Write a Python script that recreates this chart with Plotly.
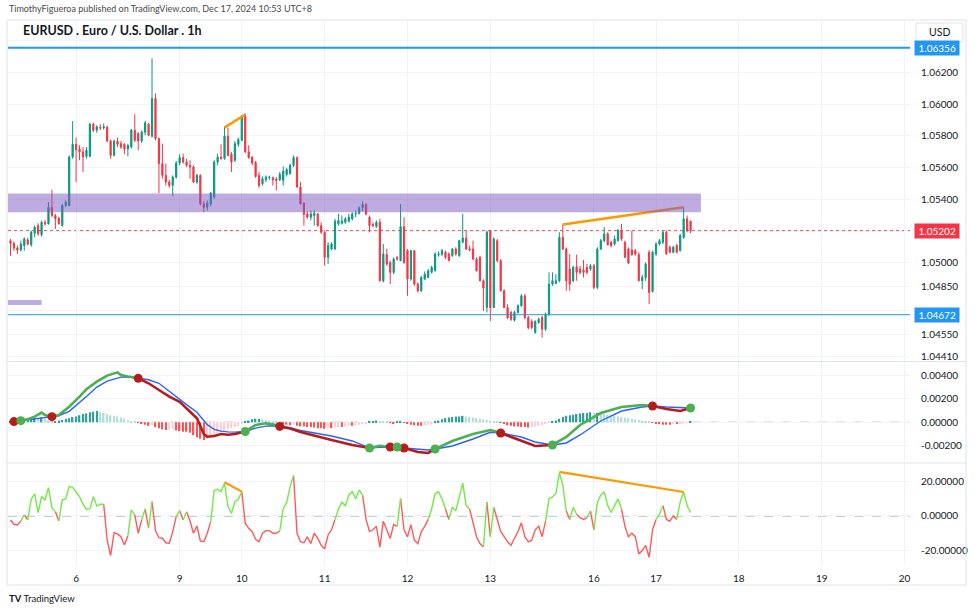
import plotly.graph_objects as go
import pandas as pd

# ---------------- data ----------------
PUBLISHED = "TimothyFigueroa published on TradingView.com, Dec 17, 2024 10:53 UTC+8"
SYMBOL_TITLE = "EURUSD . Euro / U.S. Dollar . 1h"
CURRENCY = "USD"
FIRST_BAR = "2024-12-05 05:00"   # UTC+8, hourly bars

opens = [
    1.05139, 1.05122, 1.05093, 1.05080, 1.05108, 1.05144, 1.05114, 1.05186, 1.05234, 1.05177,
    1.05255, 1.05245, 1.05350, 1.05298, 1.05281, 1.05234, 1.05361, 1.05361, 1.05667, 1.05747,
    1.05717, 1.05699, 1.05671, 1.05671, 1.05874, 1.05836, 1.05852, 1.05850, 1.05857, 1.05768,
    1.05677, 1.05768, 1.05751, 1.05747, 1.05717, 1.05730, 1.05836, 1.05815, 1.05768, 1.05823,
    1.05874, 1.05798, 1.06036, 1.05783, 1.05625, 1.05551, 1.05509, 1.05487, 1.05540, 1.05629,
    1.05663, 1.05635, 1.05614, 1.05604, 1.05509, 1.05551, 1.05371, 1.05350, 1.05371, 1.05414,
    1.05635, 1.05667, 1.05656, 1.05798, 1.05684, 1.05646, 1.05747, 1.05772, 1.05924, 1.05699,
    1.05667, 1.05633, 1.05551, 1.05498, 1.05523, 1.05536, 1.05536, 1.05528, 1.05523, 1.05519,
    1.05557, 1.05561, 1.05614, 1.05663, 1.05477, 1.05376, 1.05308, 1.05287, 1.05298, 1.05308,
    1.05234, 1.05192, 1.05034, 1.05087, 1.05087, 1.05245, 1.05249, 1.05255, 1.05262, 1.05277,
    1.05308, 1.05312, 1.05346, 1.05367, 1.05287, 1.05241, 1.05228, 1.05255, 1.04886, 1.05051,
    1.05002, 1.04939, 1.05034, 1.05013, 1.05228, 1.05076, 1.04897, 1.05076, 1.04865, 1.04823,
    1.04897, 1.04907, 1.04939, 1.04949, 1.05051, 1.05051, 1.05066, 1.05055, 1.05044, 1.05087,
    1.05044, 1.05129, 1.05156, 1.05087, 1.05087, 1.05023, 1.05034, 1.04886, 1.04717, 1.05203,
    1.04717, 1.05139, 1.05013, 1.04823, 1.04717, 1.04686, 1.04637, 1.04686, 1.04728, 1.04791,
    1.04654, 1.04629, 1.04559, 1.04622, 1.04654, 1.04580, 1.04675, 1.04865, 1.04869, 1.04886,
    1.05160, 1.05087, 1.04960, 1.04886, 1.04975, 1.04960, 1.04954, 1.04971, 1.04960, 1.04981,
    1.04844, 1.05087, 1.05139, 1.05182, 1.05129, 1.05118, 1.05139, 1.05203, 1.05129, 1.05087,
    1.05080, 1.05076, 1.05051, 1.04886, 1.04907, 1.05066, 1.04819, 1.05055, 1.05118, 1.05129,
    1.05192, 1.05097, 1.05066, 1.05108, 1.05076, 1.05160, 1.05277, 1.05262,
]
highs = [
    1.05150, 1.05135, 1.05108, 1.05139, 1.05160, 1.05156, 1.05203, 1.05234, 1.05249, 1.05266,
    1.05270, 1.05382, 1.05460, 1.05308, 1.05291, 1.05371, 1.05393, 1.05677, 1.05893, 1.05789,
    1.05741, 1.05730, 1.05730, 1.05882, 1.05882, 1.05867, 1.05874, 1.05878, 1.05861, 1.05777,
    1.05777, 1.05789, 1.05768, 1.05755, 1.05751, 1.05844, 1.05937, 1.05825, 1.05836, 1.05895,
    1.05882, 1.06289, 1.06068, 1.05789, 1.05751, 1.05625, 1.05523, 1.05551, 1.05642, 1.05684,
    1.05688, 1.05656, 1.05646, 1.05614, 1.05561, 1.05557, 1.05388, 1.05393, 1.05447, 1.05646,
    1.05688, 1.05747, 1.05857, 1.05852, 1.05699, 1.05768, 1.05789, 1.05931, 1.05941, 1.05741,
    1.05671, 1.05642, 1.05572, 1.05544, 1.05551, 1.05549, 1.05544, 1.05540, 1.05572, 1.05608,
    1.05599, 1.05625, 1.05677, 1.05671, 1.05509, 1.05382, 1.05325, 1.05329, 1.05329, 1.05312,
    1.05255, 1.05203, 1.05129, 1.05129, 1.05277, 1.05308, 1.05298, 1.05287, 1.05308, 1.05319,
    1.05329, 1.05355, 1.05388, 1.05376, 1.05298, 1.05255, 1.05266, 1.05277, 1.05118, 1.05087,
    1.05013, 1.05034, 1.05044, 1.05371, 1.05287, 1.05087, 1.05080, 1.05080, 1.04876, 1.04916,
    1.04945, 1.04960, 1.04981, 1.05066, 1.05072, 1.05087, 1.05076, 1.05066, 1.05093, 1.05097,
    1.05144, 1.05308, 1.05203, 1.05108, 1.05139, 1.05034, 1.05044, 1.04895, 1.05203, 1.05207,
    1.05160, 1.05150, 1.05023, 1.04833, 1.04738, 1.04696, 1.04696, 1.04738, 1.04802, 1.04802,
    1.04665, 1.04643, 1.04637, 1.04654, 1.04665, 1.04686, 1.04939, 1.04939, 1.04928, 1.05192,
    1.05241, 1.05097, 1.05055, 1.04981, 1.05051, 1.04981, 1.05017, 1.04992, 1.04992, 1.04992,
    1.05097, 1.05150, 1.05224, 1.05192, 1.05139, 1.05171, 1.05213, 1.05245, 1.05139, 1.05097,
    1.05203, 1.05087, 1.05066, 1.04924, 1.05002, 1.05080, 1.05076, 1.05129, 1.05150, 1.05203,
    1.05203, 1.05108, 1.05108, 1.05118, 1.05182, 1.05350, 1.05298, 1.05266,
]
lows = [
    1.05044, 1.05076, 1.05055, 1.05072, 1.05076, 1.05108, 1.05101, 1.05160, 1.05171, 1.05165,
    1.05234, 1.05241, 1.05287, 1.05213, 1.05241, 1.05228, 1.05350, 1.05355, 1.05656, 1.05509,
    1.05646, 1.05572, 1.05656, 1.05667, 1.05825, 1.05819, 1.05836, 1.05840, 1.05762, 1.05656,
    1.05671, 1.05730, 1.05717, 1.05684, 1.05671, 1.05720, 1.05762, 1.05709, 1.05755, 1.05804,
    1.05798, 1.05789, 1.05772, 1.05439, 1.05530, 1.05487, 1.05473, 1.05420, 1.05530, 1.05614,
    1.05625, 1.05604, 1.05530, 1.05502, 1.05498, 1.05361, 1.05319, 1.05329, 1.05355, 1.05403,
    1.05614, 1.05650, 1.05650, 1.05671, 1.05572, 1.05635, 1.05730, 1.05768, 1.05692, 1.05656,
    1.05614, 1.05536, 1.05473, 1.05487, 1.05509, 1.05523, 1.05487, 1.05456, 1.05515, 1.05487,
    1.05544, 1.05557, 1.05604, 1.05473, 1.05367, 1.05234, 1.05277, 1.05266, 1.05234, 1.05228,
    1.05182, 1.04981, 1.04992, 1.05080, 1.05080, 1.05234, 1.05241, 1.05245, 1.05255, 1.05266,
    1.05287, 1.05304, 1.05325, 1.05298, 1.05192, 1.05224, 1.05220, 1.04882, 1.04876, 1.04981,
    1.04865, 1.04928, 1.05013, 1.05009, 1.04992, 1.04791, 1.04886, 1.04854, 1.04812, 1.04815,
    1.04890, 1.04903, 1.04932, 1.04945, 1.05038, 1.05044, 1.05023, 1.05009, 1.05038, 1.05044,
    1.05038, 1.05122, 1.05080, 1.05072, 1.05017, 1.04945, 1.04882, 1.04696, 1.04686, 1.04633,
    1.04713, 1.05002, 1.04819, 1.04713, 1.04643, 1.04633, 1.04629, 1.04680, 1.04722, 1.04643,
    1.04580, 1.04580, 1.04553, 1.04616, 1.04527, 1.04570, 1.04665, 1.04854, 1.04865, 1.04876,
    1.05080, 1.04823, 1.04823, 1.04876, 1.04886, 1.04928, 1.04907, 1.04928, 1.04949, 1.04833,
    1.04833, 1.05080, 1.05129, 1.05108, 1.05097, 1.05108, 1.05135, 1.05139, 1.05030, 1.04992,
    1.05044, 1.05044, 1.04882, 1.04833, 1.04886, 1.04738, 1.04812, 1.05044, 1.05108, 1.05118,
    1.05051, 1.05059, 1.05059, 1.05059, 1.05072, 1.05150, 1.05192, 1.05186,
]
closes = [
    1.05122, 1.05093, 1.05080, 1.05118, 1.05150, 1.05118, 1.05192, 1.05224, 1.05182, 1.05255,
    1.05245, 1.05350, 1.05298, 1.05277, 1.05245, 1.05361, 1.05382, 1.05667, 1.05747, 1.05713,
    1.05699, 1.05667, 1.05709, 1.05874, 1.05836, 1.05857, 1.05850, 1.05857, 1.05768, 1.05677,
    1.05768, 1.05747, 1.05730, 1.05717, 1.05739, 1.05836, 1.05772, 1.05768, 1.05823, 1.05882,
    1.05804, 1.06036, 1.05783, 1.05625, 1.05551, 1.05509, 1.05487, 1.05540, 1.05629, 1.05663,
    1.05635, 1.05614, 1.05604, 1.05509, 1.05551, 1.05371, 1.05350, 1.05376, 1.05439, 1.05635,
    1.05667, 1.05656, 1.05798, 1.05677, 1.05635, 1.05751, 1.05777, 1.05920, 1.05699, 1.05663,
    1.05629, 1.05544, 1.05487, 1.05530, 1.05540, 1.05540, 1.05523, 1.05519, 1.05557, 1.05578,
    1.05587, 1.05614, 1.05663, 1.05477, 1.05371, 1.05304, 1.05287, 1.05308, 1.05312, 1.05234,
    1.05192, 1.05034, 1.05108, 1.05118, 1.05262, 1.05266, 1.05262, 1.05277, 1.05287, 1.05308,
    1.05312, 1.05346, 1.05367, 1.05308, 1.05234, 1.05234, 1.05255, 1.04886, 1.05055, 1.04992,
    1.04939, 1.05023, 1.05023, 1.05228, 1.05002, 1.04897, 1.05076, 1.04865, 1.04823, 1.04907,
    1.04928, 1.04949, 1.04971, 1.05055, 1.05055, 1.05076, 1.05034, 1.05013, 1.05087, 1.05055,
    1.05139, 1.05156, 1.05087, 1.05080, 1.05023, 1.04949, 1.04886, 1.04840, 1.05192, 1.04717,
    1.05150, 1.05013, 1.04823, 1.04717, 1.04654, 1.04643, 1.04686, 1.04728, 1.04791, 1.04654,
    1.04591, 1.04591, 1.04629, 1.04643, 1.04580, 1.04675, 1.04865, 1.04886, 1.04886, 1.05160,
    1.05087, 1.04886, 1.04865, 1.04971, 1.04939, 1.04939, 1.04939, 1.04939, 1.04981, 1.04844,
    1.05087, 1.05139, 1.05182, 1.05114, 1.05108, 1.05150, 1.05203, 1.05150, 1.05034, 1.04998,
    1.05051, 1.05055, 1.04886, 1.04907, 1.04992, 1.04812, 1.05066, 1.05118, 1.05139, 1.05192,
    1.05055, 1.05066, 1.05097, 1.05066, 1.05171, 1.05277, 1.05203, 1.05202,
]

# MACD panel: line / signal read at these bar numbers
macd_bars = [0, 1, 2, 3, 5, 7, 9, 10, 12, 14, 17, 20, 22, 25, 28, 31, 32, 34, 37, 40,
             43, 46, 49, 51, 54, 56, 57, 59, 61, 63, 65, 68, 71, 74, 76, 78, 81, 84, 89, 93,
             99, 104, 107, 110, 111, 112, 113, 114, 118, 121, 123, 128, 134, 139, 142, 148, 152, 157, 161, 165,
             171, 177, 183, 186, 190, 194, 197]
macd_line = [0.00013, 0.00006, 0.00006, 0.00014, 0.00026, 0.00048, 0.00082, 0.00062, 0.00048, 0.00062,
             0.00133, 0.00218, 0.00281, 0.00346, 0.00397, 0.00425, 0.00403, 0.00390, 0.00374, 0.00332,
             0.00275, 0.00218, 0.00175, 0.00119, 0.00034, -0.00100, -0.00123, -0.00117, -0.00100, -0.00106,
             -0.00100, -0.00078, -0.00023, -0.00009, -0.00017, -0.00035, -0.00053, -0.00083, -0.00117, -0.00150,
             -0.00193, -0.00219, -0.00200, -0.00210, -0.00218, -0.00210, -0.00206, -0.00219, -0.00253, -0.00261,
             -0.00227, -0.00159, -0.00100, -0.00066, -0.00091, -0.00159, -0.00202, -0.00193, -0.00125, -0.00023,
             0.00079, 0.00130, 0.00147, 0.00139, 0.00113, 0.00096, 0.00122]
signal_line = [0.00010, 0.00006, 0.00010, 0.00014, 0.00018, 0.00026, 0.00035, 0.00040, 0.00048, 0.00056,
               0.00093, 0.00165, 0.00220, 0.00300, 0.00350, 0.00376, 0.00384, 0.00388, 0.00374, 0.00362,
               0.00332, 0.00262, 0.00195, 0.00150, 0.00085, 0.00020, -0.00020, -0.00060, -0.00075, -0.00082,
               -0.00084, -0.00078, -0.00050, -0.00033, -0.00030, -0.00035, -0.00045, -0.00070, -0.00095, -0.00117,
               -0.00159, -0.00219, -0.00212, -0.00210, -0.00212, -0.00210, -0.00212, -0.00219, -0.00227, -0.00236,
               -0.00227, -0.00202, -0.00142, -0.00085, -0.00091, -0.00125, -0.00168, -0.00193, -0.00176, -0.00108,
               0.00011, 0.00096, 0.00130, 0.00139, 0.00130, 0.00122, 0.00122]
cross_up_bars = [3, 68, 104, 112, 123, 157, 197]
cross_down_bars = [1, 12, 37, 78, 110, 114, 142, 186]

macd_hist = [
    0.00010, 0.00008, 0.00010, 0.00015, 0.00018, 0.00025, 0.00030, 0.00035, 0.00030, 0.00040,
    0.00025, 0.00015, 0.00010, 0.00010, 0.00015, 0.00020, 0.00030, 0.00035, 0.00045, 0.00050,
    0.00060, 0.00070, 0.00075, 0.00085, 0.00090, 0.00095, 0.00090, 0.00080, 0.00070, 0.00060,
    0.00055, 0.00050, 0.00040, 0.00030, 0.00020, 0.00010, 0.00005, -0.00005, -0.00010, -0.00020,
    -0.00030, -0.00025, -0.00040, -0.00050, -0.00060, -0.00065, -0.00060, -0.00055, -0.00070, -0.00075,
    -0.00080, -0.00080, -0.00090, -0.00110, -0.00130, -0.00140, -0.00150, -0.00140, -0.00120, -0.00100,
    -0.00090, -0.00080, -0.00070, -0.00060, -0.00050, -0.00040, -0.00030, -0.00015, 0.00005, 0.00015,
    0.00025, 0.00030, 0.00030, 0.00025, 0.00020, 0.00015, 0.00010, 0.00005, -0.00005, -0.00015,
    -0.00020, -0.00025, -0.00020, -0.00030, -0.00035, -0.00035, -0.00040, -0.00040, -0.00045, -0.00050,
    -0.00050, -0.00055, -0.00050, -0.00050, -0.00045, -0.00040, -0.00040, -0.00035, -0.00030, -0.00030,
    -0.00025, -0.00020, -0.00015, -0.00010, 0.00005, 0.00010, 0.00015, 0.00010, 0.00005, 0.00003,
    -0.00005, -0.00010, 0.00003, 0.00005, -0.00005, -0.00015, -0.00020, -0.00025, -0.00030, -0.00030,
    -0.00025, -0.00020, -0.00010, 0.00005, 0.00015, 0.00025, 0.00035, 0.00040, 0.00045, 0.00050,
    0.00050, 0.00055, 0.00050, 0.00045, 0.00040, 0.00035, 0.00030, 0.00025, 0.00020, 0.00015,
    0.00010, 0.00005, -0.00005, -0.00015, -0.00025, -0.00030, -0.00035, -0.00035, -0.00040, -0.00040,
    -0.00045, -0.00040, -0.00035, -0.00030, -0.00025, -0.00015, -0.00005, 0.00005, 0.00015, 0.00030,
    0.00045, 0.00055, 0.00060, 0.00065, 0.00070, 0.00075, 0.00080, 0.00080, 0.00085, 0.00080,
    0.00080, 0.00075, 0.00070, 0.00065, 0.00060, 0.00055, 0.00050, 0.00045, 0.00040, 0.00035,
    0.00030, 0.00025, 0.00020, 0.00015, 0.00010, 0.00005, -0.00005, -0.00010, -0.00015, -0.00020,
    -0.00020, -0.00020, -0.00015, -0.00015, -0.00010, -0.00005, -0.00003, 0.00003,
]

# lower oscillator, one value per bar
oscillator = [
    -2.3, -4.8, -5.2, -2.9, 0.6, -2.3, 9.7, 12.8, 1.9, 11.2,
    9.3, 16.4, 4.8, 2.5, -2.7, 9.3, 9.9, 17.0, 16.6, 14.0,
    11.2, 7.0, 3.9, 4.1, 11.2, 5.8, 6.8, 6.8, -13.9, -23.0,
    -9.7, -10.4, -12.0, -16.8, -11.4, 3.5, 0.6, -10.0, -2.3, 4.1,
    -7.1, 8.3, -8.5, -12.6, -12.9, -15.5, -15.8, -9.1, -0.4, 3.1,
    -2.3, 2.5, -2.9, -10.0, -5.8, -14.5, -14.9, -10.0, -3.3, 14.7,
    15.5, 14.1, 18.9, 5.4, 1.5, 8.3, 9.7, 14.1, -4.3, -7.1,
    -9.1, -13.5, -14.9, -10.0, -8.5, -8.5, -10.0, -10.0, -8.7, 4.4,
    7.7, 17.0, 23.4, -10.0, -14.9, -15.5, -12.0, -16.0, -10.0, -13.0,
    -17.0, -19.0, -11.0, -8.0, -2.0, 4.0, 8.0, 6.0, 12.0, 14.0,
    10.0, 15.0, 12.0, -2.0, -9.0, -8.0, -6.0, -18.0, -3.0, -8.0,
    -13.0, -5.0, -6.0, 10.0, -8.0, -12.0, -5.0, -14.0, -16.0, -9.0,
    -6.0, -2.0, 4.0, 13.0, 14.0, 10.0, 4.0, -2.0, 5.0, 3.0,
    12.0, 19.0, 6.0, 4.0, -4.0, -12.0, -16.0, -18.0, 8.0, -12.0,
    5.0, -2.0, -9.0, -12.0, -15.0, -17.0, -13.0, -9.0, -4.0, -12.0,
    -15.0, -14.0, -8.0, -6.0, -12.0, -3.0, 10.0, 11.0, 13.0, 25.0,
    18.0, 3.0, -2.0, 5.0, 1.0, -1.0, -2.0, -1.0, 3.0, -8.0,
    8.0, 12.0, 14.0, 6.0, 2.0, 6.0, 10.0, 4.0, -6.0, -12.0,
    -10.0, -12.0, -22.0, -20.0, -17.0, -24.0, -8.0, -2.0, 1.0, 6.0,
    -2.0, -3.0, 0.0, -2.0, 8.0, 14.0, 6.0, 2.0,
]

# user drawings
level_top = 1.06356
level_bottom = 1.04672
zone_main = (1.05318, 1.05436, "2024-12-17 13:00")    # low, high, right end
zone_small = (1.04733, 1.04765, "2024-12-05 14:00")
price_trendlines = [
    [("2024-12-09 19:00", 1.05852), ("2024-12-10 01:00", 1.05935)],
    [("2024-12-13 21:00", 1.05241), ("2024-12-17 08:00", 1.05350)],
]
osc_trendlines = [
    [("2024-12-09 19:00", 19.5), ("2024-12-10 00:00", 14.1)],
    [("2024-12-13 20:00", 25.5), ("2024-12-17 08:00", 13.9)],
]

price_ticks = [1.064, 1.062, 1.060, 1.058, 1.056, 1.054, 1.052, 1.050, 1.0485, 1.047, 1.0455, 1.0441]
price_ticks_hidden = [1.064, 1.052, 1.047]
macd_ticks = [0.004, 0.002, 0.0, -0.002]
osc_ticks = [20, 0, -20]

# ---------------- time axis (forex session, weekend removed) ----------------
def session_bars(start, count):
    out, t = [], pd.Timestamp(start)
    while len(out) < count:
        wd, h = t.weekday(), t.hour
        closed = (wd == 5 and h >= 6) or wd == 6 or (wd == 0 and h < 6)
        if not closed:
            out.append(t)
        t += pd.Timedelta(hours=1)
    return out

times = session_bars(FIRST_BAR, 280)
bar_of = {t: i for i, t in enumerate(times)}
def bar(ts):
    return bar_of[pd.Timestamp(ts)]

n = len(closes)
bars = list(range(n))

# layout geometry (pixels)
FIG_W, FIG_H = 975, 611
L, R, T, B = 8, 65, 20, 46
W, H = FIG_W - L - R, FIG_H - T - B
BAR_PX = 3.452
x0 = -(10.5 - L) / BAR_PX
x1 = x0 + W / BAR_PX

def fx(px):
    return (px - L) / W

def fy(py):
    return (FIG_H - B - py) / H

day_ticks, day_labels = [], []
for i in range(1, len(times)):
    t, p = times[i], times[i - 1]
    if t.date() != p.date() and t.weekday() != 5 and i < x1:
        day_ticks.append(i)
        day_labels.append(str(t.day))

# ---------------- colours ----------------
UP, DOWN = "#089981", "#F23645"
GRID = "#F0F3FA"
TXT = "#131722"
FONT = "Lato"

fig = go.Figure()

# price candles
fig.add_trace(go.Candlestick(
    x=bars, open=opens, high=highs, low=lows, close=closes,
    increasing=dict(line=dict(color=UP, width=1), fillcolor=UP),
    decreasing=dict(line=dict(color=DOWN, width=1), fillcolor=DOWN),
    whiskerwidth=0, xaxis="x", yaxis="y", showlegend=False, hoverinfo="skip",
))

for seg in price_trendlines:
    fig.add_trace(go.Scatter(
        x=[bar(t) for t, _ in seg], y=[v for _, v in seg], mode="lines",
        line=dict(color="#FF9800", width=2.5), xaxis="x", yaxis="y",
        showlegend=False, hoverinfo="skip"))

# MACD histogram
hist_colors = []
for i, h in enumerate(macd_hist):
    prev = macd_hist[i - 1] if i > 0 else h
    if h >= 0:
        hist_colors.append("#26A69A" if h >= prev else "#B2DFDB")
    else:
        hist_colors.append("#FF5252" if h <= prev else "#FFCDD2")
fig.add_trace(go.Bar(x=bars, y=macd_hist, width=0.42, marker=dict(color=hist_colors, line=dict(width=0)),
                     xaxis="x2", yaxis="y2", showlegend=False, hoverinfo="skip"))

fig.add_trace(go.Scatter(x=macd_bars, y=signal_line, mode="lines",
                         line=dict(color="#2962FF", width=1.4),
                         xaxis="x2", yaxis="y2", showlegend=False, hoverinfo="skip"))

def colored_runs(xs, ys, seg_colors):
    """Group consecutive segments of the same colour into polylines."""
    runs = {}
    cur_c, cur_x, cur_y = None, [], []
    for k in range(len(xs) - 1):
        c = seg_colors[k]
        if c != cur_c:
            if cur_c is not None:
                runs.setdefault(cur_c, ([], []))
                runs[cur_c][0].extend(cur_x + [None])
                runs[cur_c][1].extend(cur_y + [None])
            cur_c, cur_x, cur_y = c, [xs[k]], [ys[k]]
        cur_x.append(xs[k + 1])
        cur_y.append(ys[k + 1])
    runs.setdefault(cur_c, ([], []))
    runs[cur_c][0].extend(cur_x)
    runs[cur_c][1].extend(cur_y)
    return runs

MACD_UP, MACD_DN = "#4CAF50", "#B71C1C"
seg_c = []
for k in range(len(macd_bars) - 1):
    m = macd_line[k] + macd_line[k + 1]
    s = signal_line[k] + signal_line[k + 1]
    seg_c.append(MACD_UP if m > s else MACD_DN)
for c, (xs, ys) in colored_runs(macd_bars, macd_line, seg_c).items():
    fig.add_trace(go.Scatter(x=xs, y=ys, mode="lines", line=dict(color=c, width=2.6),
                             xaxis="x2", yaxis="y2", showlegend=False, hoverinfo="skip",
                             connectgaps=False))

macd_at = dict(zip(macd_bars, macd_line))
fig.add_trace(go.Scatter(x=cross_down_bars, y=[macd_at[b] for b in cross_down_bars], mode="markers",
                         marker=dict(color=MACD_DN, size=9), xaxis="x2", yaxis="y2",
                         showlegend=False, hoverinfo="skip"))
fig.add_trace(go.Scatter(x=cross_up_bars, y=[macd_at[b] for b in cross_up_bars], mode="markers",
                         marker=dict(color=MACD_UP, size=9), xaxis="x2", yaxis="y2",
                         showlegend=False, hoverinfo="skip"))

# oscillator (green above zero, red below)
OSC_UP, OSC_DN = "#72E84A", "#FF5A5A"
osc_c = [OSC_UP if oscillator[k + 1] > 0 else OSC_DN for k in range(n - 1)]
for c, (xs, ys) in colored_runs(bars, oscillator, osc_c).items():
    fig.add_trace(go.Scatter(x=xs, y=ys, mode="lines", line=dict(color=c, width=1.4),
                             xaxis="x3", yaxis="y3", showlegend=False, hoverinfo="skip"))
for seg in osc_trendlines:
    fig.add_trace(go.Scatter(
        x=[bar(t) for t, _ in seg], y=[v for _, v in seg], mode="lines",
        line=dict(color="#FF9800", width=2.2), xaxis="x3", yaxis="y3",
        showlegend=False, hoverinfo="skip"))

# ---------------- shapes ----------------
shapes = []
ZONE_FILL = "rgba(126,87,194,0.5)"
for lo, hi, end in (zone_main, zone_small):
    shapes.append(dict(type="rect", xref="x", yref="y", x0=x0, x1=bar(end), y0=lo, y1=hi,
                       fillcolor=ZONE_FILL, line=dict(width=0), layer="above"))
shapes.append(dict(type="line", xref="x domain", yref="y", x0=0, x1=1, y0=closes[-1], y1=closes[-1],
                   line=dict(color=DOWN, width=1, dash="dot"), layer="below"))
shapes.append(dict(type="line", xref="x domain", yref="y", x0=0, x1=1, y0=level_top, y1=level_top,
                   line=dict(color="#2196F3", width=2), layer="above"))
shapes.append(dict(type="line", xref="x domain", yref="y", x0=0, x1=1, y0=level_bottom, y1=level_bottom,
                   line=dict(color="#2196F3", width=1), layer="above"))
for ax in ("2", "3"):
    shapes.append(dict(type="line", xref=f"x{ax} domain", yref=f"y{ax}", x0=0, x1=1, y0=0, y1=0,
                       line=dict(color="#9598A1", width=1, dash="dash"), layer="below"))
# frame and pane separators
shapes.append(dict(type="rect", xref="paper", yref="paper", x0=fx(7), x1=fx(966), y0=fy(585), y1=fy(20),
                   line=dict(color="#E0E3EB", width=1), fillcolor="rgba(0,0,0,0)", layer="above"))
for py in (361.5, 463):
    shapes.append(dict(type="line", xref="paper", yref="paper", x0=fx(7), x1=fx(966), y0=fy(py), y1=fy(py),
                       line=dict(color="#E0E3EB", width=1), layer="above"))
shapes.append(dict(type="rect", xref="paper", yref="paper", x0=fx(916), x1=fx(963), y0=fy(42), y1=fy(23),
                   line=dict(color="#E0E3EB", width=1), fillcolor="white", layer="above"))

# ---------------- annotations ----------------
ann = []
ann.append(dict(xref="paper", yref="paper", x=fx(7), y=fy(9), xanchor="left", yanchor="middle",
                text=PUBLISHED, showarrow=False, font=dict(family=FONT, size=9, color="#4A4A4A")))
ann.append(dict(xref="paper", yref="paper", x=fx(21), y=fy(31), xanchor="left", yanchor="middle",
                text=f"<b>{SYMBOL_TITLE}</b>", showarrow=False, font=dict(family=FONT, size=12.5, color=TXT)))
ann.append(dict(xref="paper", yref="paper", x=fx(939.5), y=fy(32.5), xanchor="center", yanchor="middle",
                text=CURRENCY, showarrow=False, font=dict(family=FONT, size=10.5, color=TXT)))
ann.append(dict(xref="paper", yref="paper", x=fx(7), y=fy(598), xanchor="left", yanchor="middle",
                text="<b>TV</b> TradingView", showarrow=False, font=dict(family=FONT, size=9.5, color="#131722")))
for price, col in ((level_top, "#2196F3"), (closes[-1], DOWN), (level_bottom, "#2196F3")):
    ann.append(dict(xref="paper", yref="y", x=1, xshift=4, y=price, xanchor="left", yanchor="middle",
                    text=f" {price:.5f} ", showarrow=False, bgcolor=col, borderpad=1,
                    font=dict(family=FONT, size=10, color="white")))

# ---------------- axes ----------------
def xax(show_labels, anchor):
    return dict(range=[x0, x1], domain=[0, 1], anchor=anchor, tickmode="array", tickvals=day_ticks,
                ticktext=day_labels, showticklabels=show_labels, showgrid=True, gridcolor=GRID,
                zeroline=False, showline=False, ticks="outside" if show_labels else "",
                ticklen=4, tickcolor="rgba(0,0,0,0)",
                tickfont=dict(family=FONT, size=10, color=TXT), rangeslider=dict(visible=False),
                fixedrange=True)

def yax(domain, rng, ticks, labels, anchor):
    return dict(domain=domain, range=rng, side="right", anchor=anchor, tickmode="array",
                tickvals=ticks, ticktext=labels, showgrid=True, gridcolor=GRID, zeroline=False,
                showline=False, ticks="outside", ticklen=8, tickcolor="rgba(0,0,0,0)",
                tickfont=dict(family=FONT, size=10, color=TXT), fixedrange=True)

price_labels = ["" if v in price_ticks_hidden else f"{v:.5f}" for v in price_ticks]

fig.update_layout(
    width=FIG_W, height=FIG_H, margin=dict(l=L, r=R, t=T, b=B),
    paper_bgcolor="white", plot_bgcolor="white", showlegend=False,
    boxgap=0.5,
    xaxis=xax(False, "y"), xaxis2=xax(False, "y2"), xaxis3=xax(True, "y3"),
    yaxis=yax([fy(361), 1], [1.04380, 1.06531], price_ticks, price_labels, "x"),
    yaxis2=yax([fy(462), fy(362)], [-0.00338, 0.00513], macd_ticks,
               ["0.00400", "0.00200", "0.00000", "-0.00200"], "x2"),
    yaxis3=yax([0, fy(464)], [-28.4, 30.1], osc_ticks, ["20.00000", "0.00000", "-20.00000"], "x3"),
    shapes=shapes, annotations=ann, font=dict(family=FONT),
)

fig.write_html("out.html")
